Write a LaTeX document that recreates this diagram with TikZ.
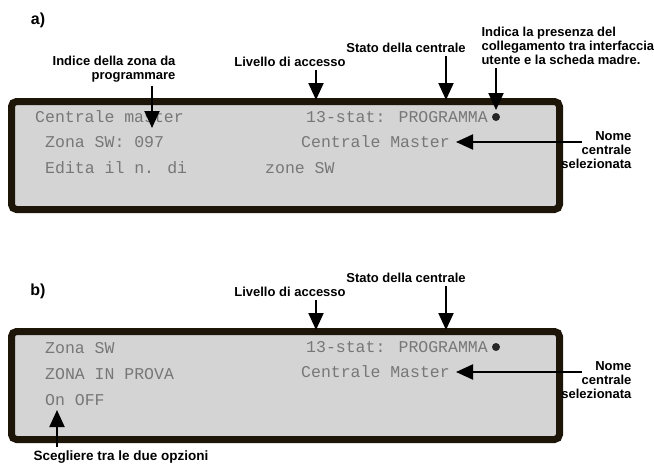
\documentclass[tikz,border=0pt]{standalone}
\usepackage{fontspec}
\setmainfont{Liberation Sans}
\newfontfamily\lcdfont{Liberation Mono}
\usepackage{xcolor}
\usetikzlibrary{arrows.meta,positioning,calc}
\definecolor{lcdframe}{HTML}{1E1509}
\definecolor{lcdback}{HTML}{D4D4D4}
\definecolor{lcdtext}{HTML}{777777}

\begin{document}
\begin{tikzpicture}[x=1pt,y=-1pt,font=\bfseries\fontsize{13}{14}\selectfont,
  lcd/.style={draw=lcdframe,line width=7pt,rounded corners=5pt,fill=lcdback,minimum width=548pt,minimum height=108pt},
  lcdline/.style={anchor=west,inner sep=0pt,text=lcdtext,font=\lcdfont\fontsize{16.5}{18}\selectfont},
  callout/.style={line width=2pt,-{Triangle[width=15pt,length=17pt]}},
  linkdot/.style={circle,fill=black!85,inner sep=0pt,minimum size=8pt},
  panel/.style={font=\bfseries\fontsize{16}{18}\selectfont}]
\useasboundingbox (0,0) rectangle (654,466);
% panel a
\node[panel] (labA) at (38,20) {a)};
\node[lcd] (lcdA) at (285.5,155.5) {};
\node[lcdline] (rowA1) at (35,117) {Centrale master};
\node[lcdline] (rowA2) at (45,142) {Zona SW: 097};
\node[lcdline] (rowA3) at (45,168) {Edita il n. di};
\node[lcdline] (rowA4) at (265,168) {zone SW};
\node[lcdline] (statA) at (306,117) {13-stat: PROGRAMMA};
\node[lcdline] (nameA) at (301,142) {Centrale Master};
\node[linkdot] (dotA) at (496,117) {};
\node[anchor=east,align=right] (indiceA) at (179,69) {Indice della zona da\\programmare};
\node (livelloA) at (290,62) {Livello di accesso};
\node (statoA) at (406,48) {Stato della centrale};
\node[anchor=west,align=left] (indicaA) at (478,46) {Indica la presenza del\\collegamento tra interfaccia\\utente e la scheda madre.};
\node[anchor=east,align=right] (nomeA) at (635,150) {Nome\\centrale\\selezionata};
\coordinate (indiceTipA) at (152,128);
\coordinate (livelloTipA) at (316,100);
\coordinate (statoTipA) at (446,100);
\coordinate (indicaTipA) at (496,110);
\coordinate (nomeTipA) at (456,142);
\draw[callout] (indiceA.south -| indiceTipA) -- (indiceTipA);
\draw[callout] (livelloA.south -| livelloTipA) -- (livelloTipA);
\draw[callout] (statoA.south -| statoTipA) -- (statoTipA);
\draw[callout] (indicaA.south -| indicaTipA) -- (indicaTipA);
\draw[callout] ($(nomeA.west |- nomeTipA)+(24,0)$) -- (nomeTipA);
% panel b
\node[panel] (labB) at (38,291) {b)};
\node[lcd,below=115pt of lcdA] (lcdB) {};
\node[lcdline] (rowB1) at (45,348) {Zona SW};
\node[lcdline] (rowB2) at (45,374) {ZONA IN PROVA};
\node[lcdline] (rowB3) at (45,400) {On OFF};
\node[lcdline] (statB) at (306,347) {13-stat: PROGRAMMA};
\node[lcdline] (nameB) at (301,372) {Centrale Master};
\node[linkdot] (dotB) at (496,347) {};
\node (livelloB) at (290,292) {Livello di accesso};
\node (statoB) at (406,278) {Stato della centrale};
\node[anchor=east,align=right] (nomeB) at (635,380) {Nome\\centrale\\selezionata};
\node[anchor=west,font=\bfseries\fontsize{13.5}{16}\selectfont] (sceglieB) at (30,457) {Scegliere tra le due opzioni};
\coordinate (livelloTipB) at (316,330);
\coordinate (statoTipB) at (446,330);
\coordinate (nomeTipB) at (456,372);
\coordinate (sceglieTipB) at (57,410);
\draw[callout] (livelloB.south -| livelloTipB) -- (livelloTipB);
\draw[callout] (statoB.south -| statoTipB) -- (statoTipB);
\draw[callout] ($(nomeB.west |- nomeTipB)+(24,0)$) -- (nomeTipB);
\draw[callout] (sceglieB.north -| sceglieTipB) -- (sceglieTipB);
\end{tikzpicture}
\end{document}
